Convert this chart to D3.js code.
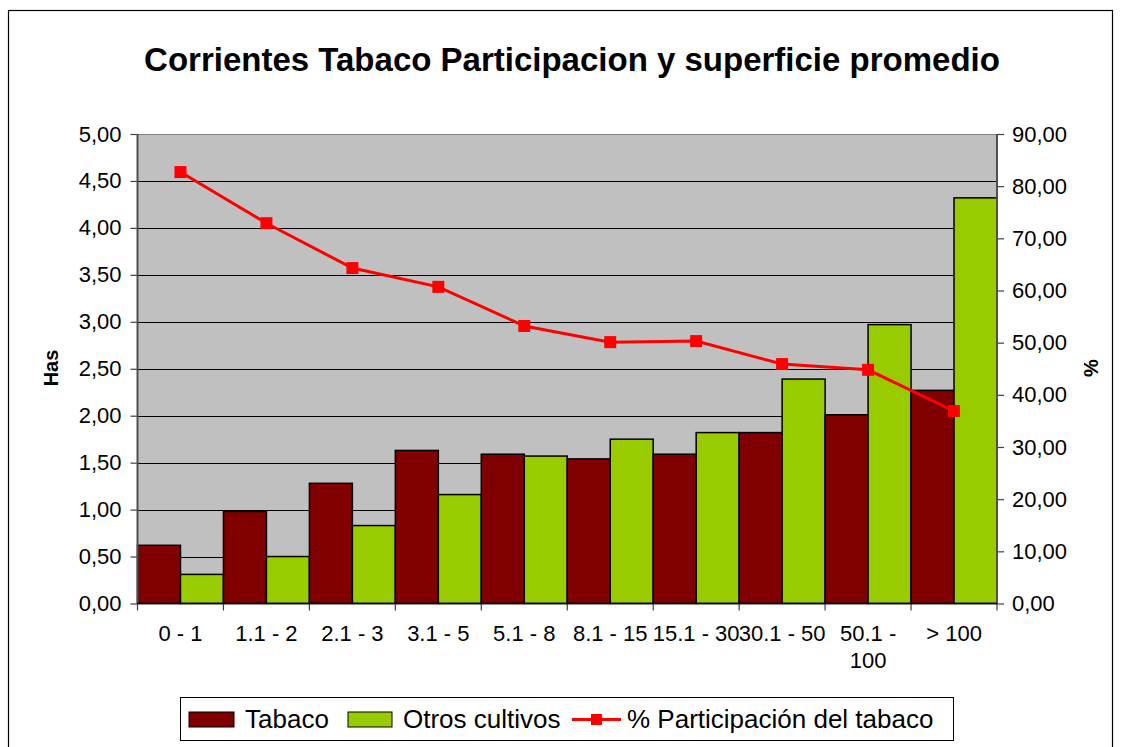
<!DOCTYPE html>
<html>
<head>
<meta charset="utf-8">
<script src="https://cdnjs.cloudflare.com/ajax/libs/d3/7.8.5/d3.min.js"></script>
<style>
  body { margin: 0; background: #fff; }
  text { font-family: "Liberation Sans", Arial, sans-serif; fill: #000; }
</style>
</head>
<body>
<div id="chart-area"></div>
<script>
// Data
var categories = ["0 - 1", "1.1 - 2", "2.1 - 3", "3.1 - 5", "5.1 - 8", "8.1 - 15", "15.1 - 30", "30.1 - 50", "50.1 - 100", "> 100"];
var tabaco = [0.62, 0.98, 1.28, 1.63, 1.59, 1.54, 1.59, 1.82, 2.01, 2.27];
var otros = [0.31, 0.50, 0.83, 1.16, 1.57, 1.75, 1.82, 2.39, 2.97, 4.32];
var participacion = [82.7, 72.9, 64.3, 60.7, 53.2, 50.1, 50.3, 45.9, 44.8, 36.9];
var hasTicks = [0, 0.5, 1, 1.5, 2, 2.5, 3, 3.5, 4, 4.5, 5];
var pctTicks = [0, 10, 20, 30, 40, 50, 60, 70, 80, 90];
var seriesNames = ["Tabaco", "Otros cultivos", "% Participación del tabaco"];

ParticipationChart = function(_parentElement) {
  this.parentElement = _parentElement;
  this.margin = {top: 134, right: 124, bottom: 143.5, left: 137.5};
  this.width = 1121 - this.margin.left - this.margin.right;
  this.height = 747 - this.margin.top - this.margin.bottom;

  this.initVis();
}

ParticipationChart.prototype.initVis = function() {
  var vis = this;

  vis.root = d3.select("#" + vis.parentElement)
    .append("svg")
    .attr("width", 1121)
    .attr("height", 747);

  // outer chart border
  vis.root.append("rect")
    .attr("x", 8.5).attr("y", 10.5)
    .attr("width", 1104).attr("height", 760)
    .attr("fill", "none")
    .attr("stroke", "#000")
    .attr("stroke-width", 1.2);

  vis.root.append("text")
    .attr("x", 572).attr("y", 71)
    .attr("text-anchor", "middle")
    .style("font-size", "33px")
    .style("font-weight", "bold")
    .text("Corrientes Tabaco Participacion y superficie promedio");

  vis.svg = vis.root.append("g")
    .attr("transform", "translate(" + vis.margin.left + "," + vis.margin.top + ")");

  var loc = d3.formatLocale({decimal: ",", thousands: ".", grouping: [3], currency: ["", ""]});
  vis.fmt = loc.format(".2f");

  vis.x = d3.scaleBand().domain(categories).range([0, vis.width]).padding(0);
  vis.xInner = d3.scaleBand().domain([0, 1]).range([0, vis.x.bandwidth()]);
  vis.y = d3.scaleLinear().domain([0, 5]).range([vis.height, 0]);
  vis.y2 = d3.scaleLinear().domain([0, 90]).range([vis.height, 0]);

  vis.updateVis();
}

ParticipationChart.prototype.updateVis = function() {
  var vis = this;

  vis.svg.append("rect")
    .attr("width", vis.width)
    .attr("height", vis.height)
    .attr("fill", "#C0C0C0");

  // gridlines
  vis.svg.selectAll(".grid")
    .data(hasTicks.slice(1))
    .enter().append("line")
    .attr("class", "grid")
    .attr("x1", 0).attr("x2", vis.width)
    .attr("y1", function(d) { return Math.round(vis.y(d)) + 0.5; })
    .attr("y2", function(d) { return Math.round(vis.y(d)) + 0.5; })
    .attr("stroke", function(d) { return d == 5 ? "#808080" : "#000"; })
    .attr("stroke-width", 1);

  // bars
  var groups = vis.svg.selectAll(".cat")
    .data(categories)
    .enter().append("g")
    .attr("class", "cat")
    .attr("transform", function(d) { return "translate(" + vis.x(d) + ",0)"; });

  groups.append("rect")
    .attr("x", vis.xInner(0))
    .attr("width", vis.xInner.bandwidth())
    .attr("y", function(d, i) { return vis.y(tabaco[i]); })
    .attr("height", function(d, i) { return vis.height - vis.y(tabaco[i]); })
    .attr("fill", "#800000")
    .attr("stroke", "#000")
    .attr("stroke-width", 1.5);

  groups.append("rect")
    .attr("x", vis.xInner(1))
    .attr("width", vis.xInner.bandwidth())
    .attr("y", function(d, i) { return vis.y(otros[i]); })
    .attr("height", function(d, i) { return vis.height - vis.y(otros[i]); })
    .attr("fill", "#99CC00")
    .attr("stroke", "#000")
    .attr("stroke-width", 1.5);

  // axes
  var yAxis = d3.axisLeft(vis.y).tickValues(hasTicks).tickFormat(vis.fmt).tickSize(7).tickPadding(9);
  var y2Axis = d3.axisRight(vis.y2).tickValues(pctTicks).tickFormat(vis.fmt).tickSize(7).tickPadding(8);
  var xAxis = d3.axisBottom(vis.x).tickSize(0).tickPadding(22);

  var gy = vis.svg.append("g").attr("class", "axis").call(yAxis);
  var gy2 = vis.svg.append("g").attr("class", "axis")
    .attr("transform", "translate(" + vis.width + ",0)").call(y2Axis);
  var gx = vis.svg.append("g").attr("class", "axis")
    .attr("transform", "translate(0," + vis.height + ")").call(xAxis);

  vis.svg.selectAll(".axis .domain").remove();
  vis.svg.selectAll(".axis .tick line").attr("stroke", "#404040").attr("stroke-width", 1.2);
  vis.svg.selectAll(".axis text").style("font-size", "22px").attr("fill", "#000");

  // only the labels wider than a category get a second line
  gx.selectAll(".tick text").call(wrap, vis.x.bandwidth() + 6);

  // category separators below the x axis
  vis.svg.selectAll(".xsep")
    .data(d3.range(categories.length + 1))
    .enter().append("line")
    .attr("class", "xsep")
    .attr("x1", function(d) { return d * vis.x.step(); })
    .attr("x2", function(d) { return d * vis.x.step(); })
    .attr("y1", vis.height).attr("y2", vis.height + 7)
    .attr("stroke", "#404040").attr("stroke-width", 1.2);

  // axis lines
  vis.svg.append("line").attr("x1", 0).attr("x2", 0).attr("y1", 0).attr("y2", vis.height)
    .attr("stroke", "#505050").attr("stroke-width", 2);
  vis.svg.append("line").attr("x1", vis.width).attr("x2", vis.width).attr("y1", 0).attr("y2", vis.height)
    .attr("stroke", "#505050").attr("stroke-width", 2);
  vis.svg.append("line").attr("x1", 0).attr("x2", vis.width).attr("y1", vis.height).attr("y2", vis.height)
    .attr("stroke", "#000").attr("stroke-width", 1.5);

  // participation line
  var line = d3.line()
    .x(function(d, i) { return vis.x(categories[i]) + vis.x.bandwidth() / 2; })
    .y(function(d) { return vis.y2(d); });

  vis.svg.append("path")
    .datum(participacion)
    .attr("d", line)
    .attr("fill", "none")
    .attr("stroke", "#FF0000")
    .attr("stroke-width", 3);

  vis.svg.selectAll(".marker")
    .data(participacion)
    .enter().append("rect")
    .attr("class", "marker")
    .attr("x", function(d, i) { return vis.x(categories[i]) + vis.x.bandwidth() / 2 - 6; })
    .attr("y", function(d) { return vis.y2(d) - 6; })
    .attr("width", 12).attr("height", 12)
    .attr("fill", "#FF0000");

  // axis titles
  vis.root.append("text")
    .attr("transform", "translate(58,368) rotate(-90)")
    .attr("text-anchor", "middle")
    .style("font-size", "20px").style("font-weight", "bold")
    .text("Has");
  vis.root.append("text")
    .attr("transform", "translate(1098,368) rotate(-90)")
    .attr("text-anchor", "middle")
    .style("font-size", "20px").style("font-weight", "bold")
    .text("%");

  vis.drawLegend();
}

ParticipationChart.prototype.drawLegend = function() {
  var vis = this;

  var lg = vis.root.append("g").attr("transform", "translate(180,697)");
  lg.append("rect")
    .attr("x", 0.5).attr("y", 0.5)
    .attr("width", 773).attr("height", 43)
    .attr("fill", "#fff")
    .attr("stroke", "#000");

  lg.append("rect").attr("x", 9).attr("y", 15).attr("width", 45).attr("height", 15)
    .attr("fill", "#800000").attr("stroke", "#000");
  lg.append("rect").attr("x", 168).attr("y", 15).attr("width", 44).attr("height", 15)
    .attr("fill", "#99CC00").attr("stroke", "#000");
  lg.append("line").attr("x1", 392).attr("x2", 441).attr("y1", 22.5).attr("y2", 22.5)
    .attr("stroke", "#FF0000").attr("stroke-width", 3);
  lg.append("rect").attr("x", 411).attr("y", 17).attr("width", 11).attr("height", 11)
    .attr("fill", "#FF0000");

  var xs = [65, 223, 447];
  lg.selectAll(".lgtext")
    .data(seriesNames)
    .enter().append("text")
    .attr("class", "lgtext")
    .attr("x", function(d, i) { return xs[i]; })
    .attr("y", 31)
    .style("font-size", "26px")
    .text(function(d) { return d; });
}

function wrap(text, width) {
  text.each(function() {
    var t = d3.select(this),
        words = t.text().split(/\s+/).reverse(),
        word, line = [], lineNumber = 0,
        y = t.attr("y"), dy = parseFloat(t.attr("dy")),
        tspan = t.text(null).append("tspan").attr("x", 0).attr("y", y).attr("dy", dy + "em");
    while (word = words.pop()) {
      line.push(word);
      tspan.text(line.join(" "));
      if (tspan.node().getComputedTextLength() > width && line.length > 1) {
        line.pop();
        tspan.text(line.join(" "));
        line = [word];
        tspan = t.append("tspan").attr("x", 0).attr("y", y)
          .attr("dy", (++lineNumber * 1.2 + dy) + "em").text(word);
      }
    }
  });
}

new ParticipationChart("chart-area");
</script>
</body>
</html>
